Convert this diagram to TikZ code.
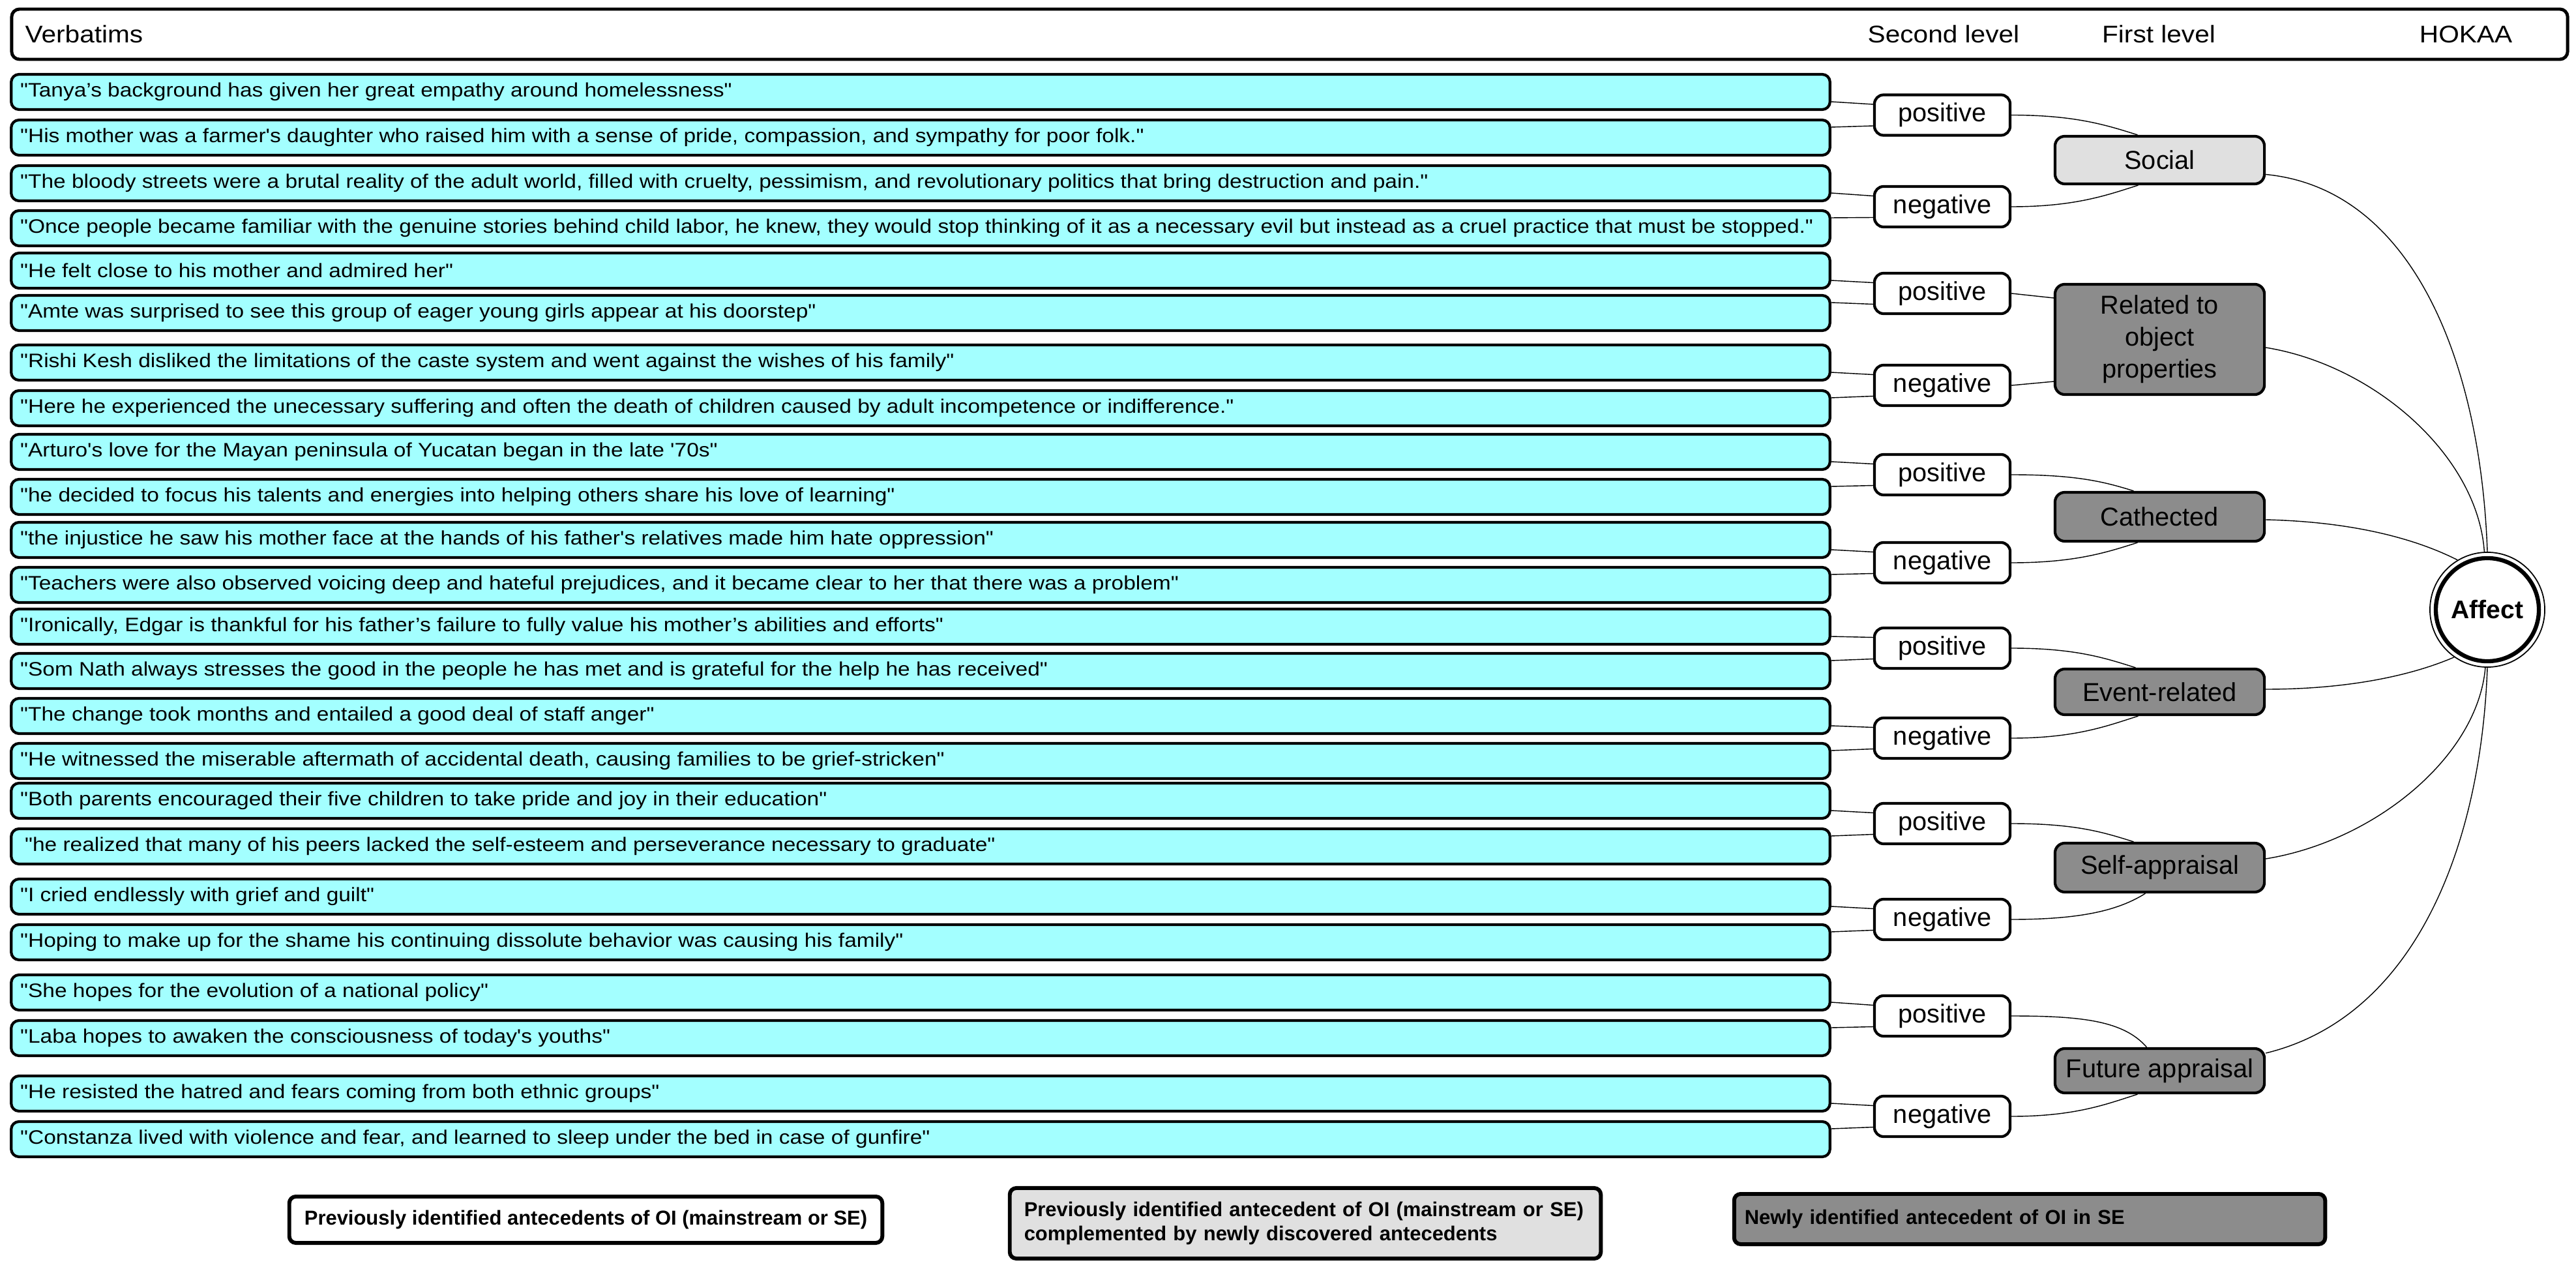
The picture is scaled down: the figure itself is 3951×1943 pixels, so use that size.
\documentclass[tikz,border=0pt]{standalone}
\usepackage{fontspec}
\newfontfamily\vfont{Liberation Sans}[FakeStretch=1.12]
\newfontfamily\hfont{Liberation Sans}[FakeStretch=1.1]
\newfontfamily\afont{Liberation Sans}
\definecolor{vcyan}{RGB}{163,255,255}
\definecolor{lgray}{RGB}{224,224,224}
\definecolor{dgray}{RGB}{140,140,140}
\begin{document}
\begin{tikzpicture}[x=0.01cm,y=-0.01cm,
  verbbox/.style={draw, line width=1.2pt, rounded corners=0.12cm, fill=vcyan, minimum height=0.54cm, text width=27.6cm, inner xsep=0.14cm, inner ysep=0pt, align=flush left, font=\vfont\fontsize{8.5}{10}\selectfont},
  lvltwo/.style={draw, line width=1.2pt, rounded corners=0.14cm, fill=white, minimum width=2.08cm, minimum height=0.62cm, inner sep=0pt, font=\afont\fontsize{11.3}{13.9}\selectfont},
  lvlone/.style={draw, line width=1.2pt, rounded corners=0.15cm, minimum width=3.21cm, inner sep=0pt, align=center, font=\afont\fontsize{11.3}{13.9}\selectfont},
  lbox/.style={draw, line width=1.7pt, rounded corners=0.1cm, inner sep=0pt, font=\afont\bfseries\fontsize{8.8}{10.4}\selectfont},
  htext/.style={font=\hfont\fontsize{10.5}{12}\selectfont, inner sep=0pt},
  conn/.style={line width=0.4pt}]
\useasboundingbox (0,0) rectangle (3951,1943);
\fill[white] (0,0) rectangle (3951,1943);

% header
\node[draw, line width=1.4pt, rounded corners=0.12cm, minimum width=39.18cm, minimum height=0.77cm, inner sep=0pt] (header) at (1978,52.5) {};
\node[htext, anchor=base west] (hverb) at (38,66) {Verbatims};
\node[htext, anchor=base] (hsec) at (2981,66) {Second level};
\node[htext, anchor=base] (hfirst) at (3311,66) {First level};
\node[htext, anchor=base] (hhokaa) at (3782,66) {HOKAA};

% verbatims
\node[verbbox] (v1) at (1412,141) {"Tanya’s background has given her great empathy around homelessness"};
\node[verbbox] (v2) at (1412,211) {"His mother was a farmer's daughter who raised him with a sense of pride, compassion, and sympathy for poor folk."};
\node[verbbox] (v3) at (1412,281) {"The bloody streets were a brutal reality of the adult world, filled with cruelty, pessimism, and revolutionary politics that bring destruction and pain."};
\node[verbbox] (v4) at (1412,350) {"Once people became familiar with the genuine stories behind child labor, he knew, they would stop thinking of it as a necessary evil but instead as a cruel practice that must be stopped."};
\node[verbbox] (v5) at (1412,415) {"He felt close to his mother and admired her"};
\node[verbbox] (v6) at (1412,480) {"Amte was surprised to see this group of eager young girls appear at his doorstep"};
\node[verbbox] (v7) at (1412,556) {"Rishi Kesh disliked the limitations of the caste system and went against the wishes of his family"};
\node[verbbox] (v8) at (1412,626) {"Here he experienced the unecessary suffering and often the death of children caused by adult incompetence or indifference."};
\node[verbbox] (v9) at (1412,693) {"Arturo's love for the Mayan peninsula of Yucatan began in the late '70s"};
\node[verbbox] (v10) at (1412,762) {"he decided to focus his talents and energies into helping others share his love of learning"};
\node[verbbox] (v11) at (1412,828) {"the injustice he saw his mother face at the hands of his father's relatives made him hate oppression"};
\node[verbbox] (v12) at (1412,897) {"Teachers were also observed voicing deep and hateful prejudices, and it became clear to her that there was a problem"};
\node[verbbox] (v13) at (1412,961) {"Ironically, Edgar is thankful for his father’s failure to fully value his mother’s abilities and efforts"};
\node[verbbox] (v14) at (1412,1029) {"Som Nath always stresses the good in the people he has met and is grateful for the help he has received"};
\node[verbbox] (v15) at (1412,1098) {"The change took months and entailed a good deal of staff anger"};
\node[verbbox] (v16) at (1412,1167) {"He witnessed the miserable aftermath of accidental death, causing families to be grief-stricken"};
\node[verbbox] (v17) at (1412,1228) {"Both parents encouraged their five children to take pride and joy in their education"};
\node[verbbox] (v18) at (1412,1298) {\hspace*{0.07cm}"he realized that many of his peers lacked the self-esteem and perseverance necessary to graduate"};
\node[verbbox] (v19) at (1412,1375) {"I cried endlessly with grief and guilt"};
\node[verbbox] (v20) at (1412,1445) {"Hoping to make up for the shame his continuing dissolute behavior was causing his family"};
\node[verbbox] (v21) at (1412,1522) {"She hopes for the evolution of a national policy"};
\node[verbbox] (v22) at (1412,1592) {"Laba hopes to awaken the consciousness of today's youths"};
\node[verbbox] (v23) at (1412,1677) {"He resisted the hatred and fears coming from both ethnic groups"};
\node[verbbox] (v24) at (1412,1747) {"Constanza lived with violence and fear, and learned to sleep under the bed in case of gunfire"};

% second level
\node[lvltwo] (p1) at (2979,176.5) {positive};
\node[lvltwo] (n1) at (2979,317) {negative};
\node[lvltwo] (p2) at (2979,450) {positive};
\node[lvltwo] (n2) at (2979,591) {negative};
\node[lvltwo] (p3) at (2979,728) {positive};
\node[lvltwo] (n3) at (2979,863) {negative};
\node[lvltwo] (p4) at (2979,994) {positive};
\node[lvltwo] (n4) at (2979,1132) {negative};
\node[lvltwo] (p5) at (2979,1263) {positive};
\node[lvltwo] (n5) at (2979,1410) {negative};
\node[lvltwo] (p6) at (2979,1558) {positive};
\node[lvltwo] (n6) at (2979,1712) {negative};

% first level
\node[lvlone, fill=lgray, minimum height=0.73cm] (social) at (3312.5,245.5) {Social};
\node[lvlone, fill=dgray, minimum height=1.69cm] (rel) at (3312.5,520.5) {Related to\\object\\properties};
\node[lvlone, fill=dgray, minimum height=0.75cm] (cath) at (3312.5,792.5) {Cathected};
\node[lvlone, fill=dgray, minimum height=0.70cm] (event) at (3312.5,1061) {Event-related};
\node[lvlone, fill=dgray, minimum height=0.75cm] (selfap) at (3312.5,1330.5) {Self-appraisal};
\node[lvlone, fill=dgray, minimum height=0.68cm] (future) at (3312.5,1642) {Future appraisal};

% HOKAA
\node[circle, draw, line width=0.5pt, minimum size=1.76cm, inner sep=0pt, font=\afont\bfseries\fontsize{11.1}{13}\selectfont] (affect) at (3815,935) {Affect};
\draw[line width=1.8pt] (affect.center) circle (0.79cm);

% verbatim -> second level
\foreach \a/\b/\s in {v1/v2/p1, v3/v4/n1, v5/v6/p2, v7/v8/n2, v9/v10/p3, v11/v12/n3, v13/v14/p4, v15/v16/n4, v17/v18/p5, v19/v20/n5, v21/v22/p6, v23/v24/n6}{
  \draw[conn] ([yshift=-0.15cm]\a.east) -- ([yshift=0.165cm]\s.west);
  \draw[conn] ([yshift=0.16cm]\b.east) -- ([yshift=-0.165cm]\s.west);
}

% second level -> first level
\draw[conn] (p1.east) .. controls +(100,0) and +(-45,-14) .. ([xshift=-0.34cm]social.north);
\draw[conn] (n1.east) .. controls +(100,0) and +(-45,14) .. ([xshift=-0.33cm]social.south);
\draw[conn] (p2.east) -- ([yshift=0.635cm]rel.west);
\draw[conn] (n2.east) -- ([yshift=-0.645cm]rel.west);
\draw[conn] (p3.east) .. controls +(100,0) and +(-45,-14) .. ([xshift=-0.40cm]cath.north);
\draw[conn] (n3.east) .. controls +(100,0) and +(-45,14) .. ([xshift=-0.34cm]cath.south);
\draw[conn] (p4.east) .. controls +(100,0) and +(-45,-14) .. ([xshift=-0.37cm]event.north);
\draw[conn] (n4.east) .. controls +(100,0) and +(-45,14) .. ([xshift=-0.33cm]event.south);
\draw[conn] (p5.east) .. controls +(100,0) and +(-45,-14) .. ([xshift=-0.40cm]selfap.north);
\draw[conn] (n5.east) .. controls +(110,0) and +(-40,25) .. ([xshift=-0.22cm]selfap.south);
\draw[conn] (p6.east) .. controls +(110,0) and +(-35,-40) .. ([xshift=-0.20cm]future.north);
\draw[conn] (n6.east) .. controls +(100,0) and +(-45,14) .. ([xshift=-0.34cm]future.south);

% first level -> Affect
\draw[conn] ([yshift=-0.22cm]social.east) .. controls +(227,22) and +(-10,-287) .. (affect.90);
\draw[conn] ([yshift=-0.125cm]rel.east) .. controls +(167,27) and +(-10,-147) .. (affect.93);
\draw[conn] ([yshift=-0.045cm]cath.east) .. controls +(127,3) and +(-69,-35) .. (affect.121);
\draw[conn] ([yshift=0.04cm]event.east) .. controls +(127,0) and +(-65,28) .. (affect.235);
\draw[conn] ([yshift=0.135cm]selfap.east) .. controls +(167,-27) and +(-12,137) .. (affect.268);
\draw[conn] ([yshift=0.27cm]future.east) .. controls +(227,-55) and +(-10,277) .. (affect.270);

% legend
\node[lbox, minimum width=9.09cm, minimum height=0.71cm] (leg1) at (898.5,1870.5) {Previously identified antecedents of OI (mainstream or SE)};
\node[lbox, fill=lgray, minimum width=9.06cm, minimum height=1.08cm, align=left, text width=8.62cm, inner xsep=0.22cm] (leg2) at (2002,1876) {Previously identified antecedent of OI (mainstream or SE)\\complemented by newly discovered antecedents};
\node[lbox, fill=dgray, minimum width=9.06cm, minimum height=0.77cm, align=left, text width=8.74cm, inner xsep=0.16cm] (leg3) at (3113,1869.5) {Newly identified antecedent of OI in SE};
\end{tikzpicture}
\end{document}
